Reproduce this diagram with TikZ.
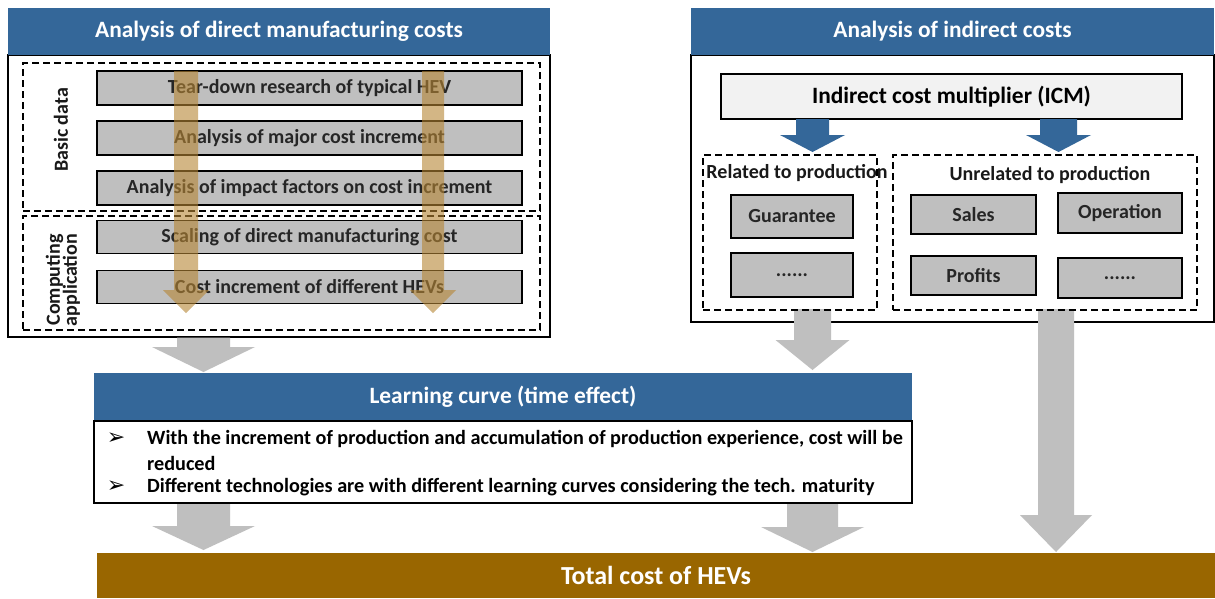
\documentclass[tikz,border=0pt]{standalone}
\usepackage{fontspec}
\setmainfont{Carlito}
\newfontfamily\symfont{DejaVu Sans}
\definecolor{hblue}{RGB}{52,103,153}
\definecolor{boxgray}{RGB}{191,191,191}
\definecolor{arrgray}{RGB}{191,191,191}
\definecolor{icmfill}{RGB}{242,242,242}
\definecolor{totalbrown}{RGB}{153,102,0}
\definecolor{gold}{RGB}{182,134,52}
\newcommand\fsz[1]{\bfseries\fontsize{#1}{#1}\selectfont}
% block arrow: style, cx, half shaft, half head, y start, y head, y tip
\newcommand\blockarrow[7]{\fill[#1] ({#2-#3},#5) -- ({#2+#3},#5) -- ({#2+#3},#6) -- ({#2+#4},#6) -- (#2,#7) -- ({#2-#4},#6) -- ({#2-#3},#6) -- cycle;}
\begin{document}
\begin{tikzpicture}[x=1pt,y=-1pt,
  hdr/.style={fill=hblue, text=white, font=\fsz{23.4}, inner sep=0, draw=none},
  panel/.style={draw=black, line width=1.3pt, fill=white, inner sep=0},
  dbox/.style={draw=black, dash pattern=on 7pt off 4pt, line width=1.2pt, inner sep=0},
  gbox/.style={draw=black, line width=1.2pt, fill=boxgray, inner sep=0, font=\fsz{20}, text=black!85},
  lbl/.style={font=\fsz{20}, text=black!90, inner sep=0},
  txt/.style={font=\fsz{20.2}, text=black, inner sep=0, anchor=west},
  bul/.style={font=\symfont\fontsize{22}{22}\selectfont, inner sep=0},
  grayarr/.style={fill=arrgray},
  bluearr/.style={fill=hblue},
  goldarr/.style={fill=gold, fill opacity=0.6}
]
\useasboundingbox (0,0) rectangle (1215,598);
\fill[white] (0,0) rectangle (1215,598);

% ---------- left panel ----------
\node[panel, minimum width=542, minimum height=282] (dbody) at (279,196) {};
\node[hdr, minimum width=542, minimum height=47] (dhead) at (279,31.5) {Analysis of direct manufacturing costs};
\node[dbox, minimum width=517, minimum height=148] (basic) at (281.5,137) {};
\node[dbox, minimum width=517, minimum height=114] (comp) at (281.5,273) {};
\node[lbl, rotate=90] (basiclbl) at (61,130) {Basic data};
\node[lbl, rotate=90, align=center] (complbl) at (63,280) {Computing\\[-3pt]application};
\node[gbox, minimum width=425, minimum height=34] (b1) at (309.5,88) {Tear-down research of typical HEV};
\node[gbox, minimum width=425, minimum height=34] (b2) at (309.5,138) {Analysis of major cost increment};
\node[gbox, minimum width=425, minimum height=34] (b3) at (309.5,188) {Analysis of impact factors on cost increment};
\node[gbox, minimum width=425, minimum height=33] (b4) at (309.5,237) {Scaling of direct manufacturing cost};
\node[gbox, minimum width=425, minimum height=33] (b5) at (309.5,287) {Cost increment of different HEVs};
\blockarrow{goldarr}{186}{12}{23}{71}{290}{313}
\blockarrow{goldarr}{433}{11}{23}{71}{290}{313}

% ---------- right panel ----------
\node[panel, minimum width=523, minimum height=267] (ibody) at (952.5,188.5) {};
\node[hdr, minimum width=523, minimum height=47] (ihead) at (952.5,31.5) {Analysis of indirect costs};
\node[draw=black, line width=1.2pt, fill=icmfill, inner sep=0, minimum width=461, minimum height=45, font=\fsz{23.4}] (icm) at (951.5,96.5) {Indirect cost multiplier (ICM)};
\blockarrow{bluearr}{812.5}{16.5}{32.5}{119}{135}{152}
\blockarrow{bluearr}{1058.5}{18.5}{32.5}{119}{135}{152}
% gray arrows starting inside right panel
\blockarrow{grayarr}{812.5}{18.5}{37}{309}{340}{370}
\blockarrow{grayarr}{1056}{18}{36}{309}{515}{552}
\node[dbox, minimum width=174, minimum height=155] (rel) at (790,232.5) {};
\node[dbox, minimum width=304, minimum height=155] (unrel) at (1045,232.5) {};
\node[lbl] (reltxt) at (797,173) {Related to production};
\node[lbl] (unreltxt) at (1050,175) {Unrelated to production};
\node[gbox, minimum width=122, minimum height=43] (guar) at (792,216.5) {Guarantee};
\node[gbox, minimum width=122, minimum height=44] (dots1) at (792,275) {......};
\node[gbox, minimum width=125, minimum height=39] (sales) at (973.5,214.5) {Sales};
\node[gbox, minimum width=124, minimum height=40] (oper) at (1120,213) {Operation};
\node[gbox, minimum width=125, minimum height=39] (prof) at (973.5,275.5) {Profits};
\node[gbox, minimum width=124, minimum height=40] (dots2) at (1120,278) {......};

% ---------- gray arrows ----------
\blockarrow{grayarr}{203.5}{26.5}{51.5}{337.7}{347}{372}
\blockarrow{grayarr}{203.5}{26.5}{51.5}{503}{526}{550}
\blockarrow{grayarr}{812.5}{25.5}{51.5}{503}{527}{552}

% ---------- learning curve ----------
\node[hdr, minimum width=818, minimum height=48] (lhead) at (503,397) {Learning curve (time effect)};
\node[panel, minimum width=818, minimum height=82, line width=1.2pt] (lbody) at (503,462) {};
\node[bul] (bul1) at (116,439) {➢};
\node[bul] (bul2) at (116,487) {➢};
\node[txt] (l1) at (147,439) {With the increment of production and accumulation of production experience, cost will be};
\node[txt] (l2) at (147,463) {reduced};
\node[txt] (l3) at (147,487) {Different technologies are with different learning curves considering the tech. maturity};

% ---------- total ----------
\node[fill=totalbrown, text=white, inner sep=0, minimum width=1118, minimum height=45, font=\fsz{26}] (total) at (656,575.5) {\raisebox{-3pt}{Total cost of HEVs}};
\end{tikzpicture}
\end{document}
